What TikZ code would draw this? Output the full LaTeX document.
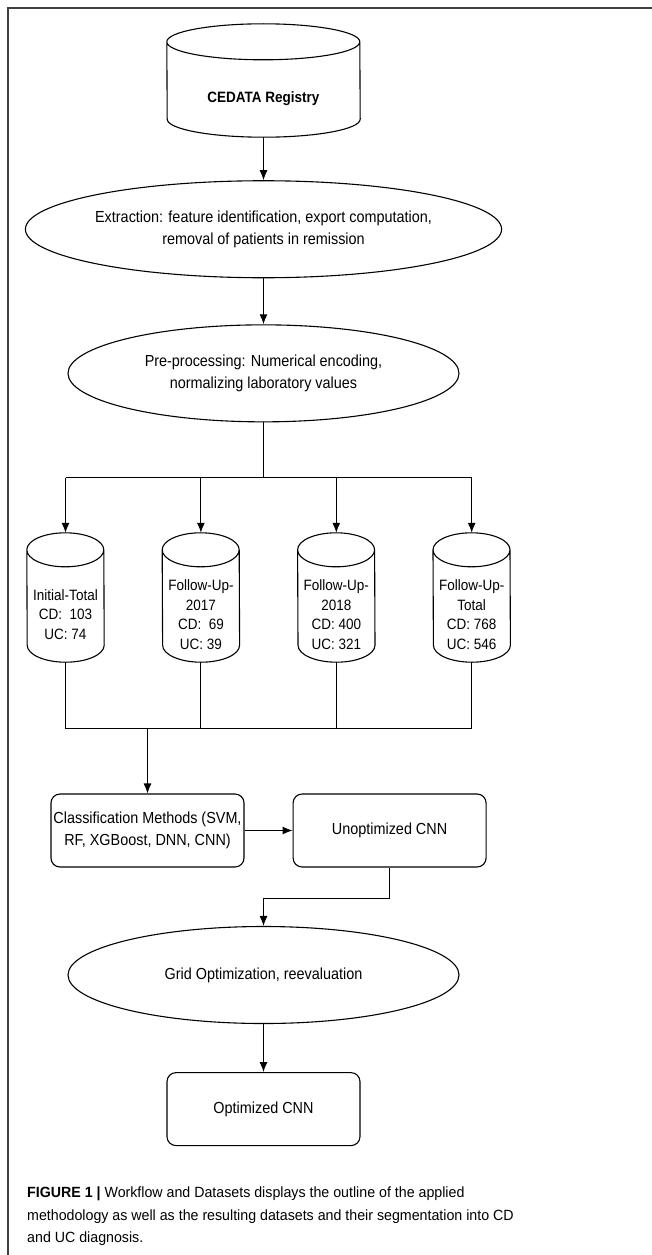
\documentclass[tikz,border=0pt]{standalone}
\usepackage{fontspec}
\setmainfont{Liberation Sans}[FakeStretch=0.9]
\newfontfamily\capfont{Liberation Sans}[FakeStretch=0.96]
\usepackage{tikz}
\usetikzlibrary{shapes, arrows.meta, positioning}

% outline of a database cylinder round the body node #1 (x radius #2, cap y radius #3)
\newcommand{\dbcyl}[3]{%
  \draw [dbline] ([yshift=#3]#1.north west) arc[start angle=180, end angle=0, x radius=#2, y radius=#3]
    -- ([yshift=#3]#1.south east) arc[start angle=0, end angle=-180, x radius=#2, y radius=#3] -- cycle
    ([yshift=#3]#1.north west) arc[start angle=180, end angle=360, x radius=#2, y radius=#3];}

\begin{document}
\begin{tikzpicture}[
    x=1pt, y=-1pt,
    node distance=48pt,
    every node/.style={inner sep=0pt},
    proc/.style={ellipse, draw, line width=1.1pt, minimum width=391pt, minimum height=97pt, align=center, font=\fontsize{16}{22}\selectfont},
    block/.style={rectangle, draw, line width=1.1pt, rounded corners=9pt, minimum width=193pt, minimum height=73pt, align=center, font=\fontsize{16}{22}\selectfont},
    db/.style={rectangle, minimum width=77pt, minimum height=95pt, align=center, font=\fontsize{15}{19.5}\selectfont},
    dbline/.style={line width=1.1pt, line join=round},
    link/.style={draw, line width=1.1pt},
    line/.style={draw, line width=1.1pt, -{Latex[length=10pt,width=8pt]}},
    frame/.style={draw=black!75, line width=2pt}
]
    \useasboundingbox (0,0) rectangle (652,1255);
    \draw [frame] (652,8.5) -- (7.5,8.5) -- (7.5,1255);

    % Nodes
    \node [db, minimum width=193pt, minimum height=77pt, font=\fontsize{15}{19.5}\selectfont\bfseries]
          (reg) at (263.5,98.5) {CEDATA Registry};

    \node [proc, below=43pt of reg] (ext) {Extraction: feature identification, export computation,\\removal of patients in remission};
    \node [proc, below=46pt of ext] (pre) {Pre-processing: Numerical encoding,\\normalizing laboratory values};

    \node [db] (init) at (65.5,614.5) {Initial-Total\\CD:~~103\\UC: 74};
    \node [db, right=58pt of init] (fu17) {Follow-Up-\\2017\\CD:~~69\\UC: 39};
    \node [db, right=58pt of fu17] (fu18) {Follow-Up-\\2018\\CD: 400\\UC: 321};
    \node [db, right=58pt of fu18] (futot) {Follow-Up-\\Total\\CD: 768\\UC: 546};

    \node [block] (cls) at (147.5,830.5) {Classification Methods (SVM,\\RF, XGBoost, DNN, CNN)};
    \node [block, right=48pt of cls] (uno) {Unoptimized CNN};

    \node [proc] (grid) at (263.5,975) {Grid Optimization, reevaluation};
    \node [block, below=48pt of grid] (opt) {Optimized CNN};

    % Cylinders
    \dbcyl{reg}{96.5pt}{18pt}
    \dbcyl{init}{38.5pt}{17pt}
    \dbcyl{fu17}{38.5pt}{17pt}
    \dbcyl{fu18}{38.5pt}{17pt}
    \dbcyl{futot}{38.5pt}{17pt}

    \coordinate (split) at (263.5,477.5);
    \coordinate (merge) at (147.5,728.5);

    % Paths
    \path [line] (reg) -- (ext);
    \path [line] (ext) -- (pre);
    \path [link] (pre.south) -- (split);
    \path [link] (split -| init) -- (split -| futot);
    \path [line] (split -| init) -- ([yshift=34pt]init.north);
    \path [line] (split -| fu17) -- ([yshift=34pt]fu17.north);
    \path [line] (split -| fu18) -- ([yshift=34pt]fu18.north);
    \path [line] (split -| futot) -- ([yshift=34pt]futot.north);
    \path [link] (init.south) -- (init |- merge) -- (futot |- merge) -- (futot.south);
    \path [link] (fu17.south) -- (fu17 |- merge);
    \path [link] (fu18.south) -- (fu18 |- merge);
    \path [line] (merge) -- (merge |- cls.north);
    \path [line] (cls) -- (uno);
    \path [line] (uno.south) -- ++(0,30.5) -| (grid.north);
    \path [line] (grid) -- (opt);

    % Caption
    \node [anchor=north west, align=left, font=\capfont\fontsize{14.8}{22.5}\selectfont] (caption) at (27,1187)
        {\textbf{FIGURE 1 |} Workflow and Datasets displays the outline of the applied\\
         methodology as well as the resulting datasets and their segmentation into CD\\
         and UC diagnosis.};
\end{tikzpicture}
\end{document}
